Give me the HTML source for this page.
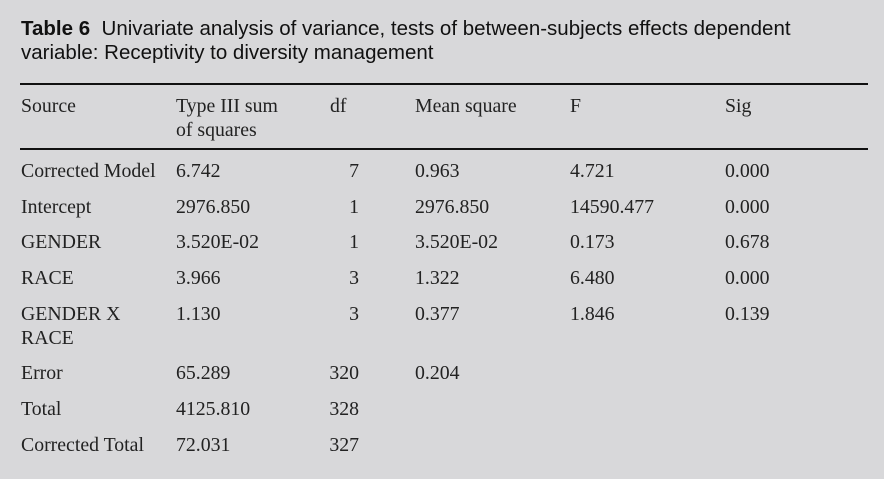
<!DOCTYPE html>
<html><head><style>
body{margin:0;width:884px;height:479px;background:#d8d8da;position:relative;overflow:hidden}
.t{position:absolute;font-family:"Liberation Sans",sans-serif;font-size:20.5px;color:#111;left:21px;line-height:24px;white-space:nowrap}
.s{position:absolute;font-family:"Liberation Serif",serif;font-size:19.8px;color:#222;line-height:24px;white-space:nowrap}
.r{text-align:right;width:60px}
.l{position:absolute;left:20px;width:848px;height:1.5px;background:#111}
</style></head><body>
<div class="t" style="top:17px"><b>Table 6</b>&nbsp; Univariate analysis of variance, tests of between-subjects effects dependent</div>
<div class="t" style="top:41px">variable: Receptivity to diversity management</div>
<div class="l" style="top:83px"></div>
<div class="l" style="top:148px"></div>
<div class="s" style="left:21px;top:94px">Source</div>
<div class="s" style="left:176px;top:94px">Type III sum<br>of squares</div>
<div class="s" style="left:330px;top:94px">df</div>
<div class="s" style="left:415px;top:94px">Mean square</div>
<div class="s" style="left:570px;top:94px">F</div>
<div class="s" style="left:725px;top:94px">Sig</div>

<div class="s" style="left:21px;top:159px">Corrected Model</div><div class="s" style="left:176px;top:159px">6.742</div><div class="s r" style="left:299px;top:159px">7</div><div class="s" style="left:415px;top:159px">0.963</div><div class="s" style="left:570px;top:159px">4.721</div><div class="s" style="left:725px;top:159px">0.000</div>
<div class="s" style="left:21px;top:195px">Intercept</div><div class="s" style="left:176px;top:195px">2976.850</div><div class="s r" style="left:299px;top:195px">1</div><div class="s" style="left:415px;top:195px">2976.850</div><div class="s" style="left:570px;top:195px">14590.477</div><div class="s" style="left:725px;top:195px">0.000</div>
<div class="s" style="left:21px;top:230px">GENDER</div><div class="s" style="left:176px;top:230px">3.520E-02</div><div class="s r" style="left:299px;top:230px">1</div><div class="s" style="left:415px;top:230px">3.520E-02</div><div class="s" style="left:570px;top:230px">0.173</div><div class="s" style="left:725px;top:230px">0.678</div>
<div class="s" style="left:21px;top:266px">RACE</div><div class="s" style="left:176px;top:266px">3.966</div><div class="s r" style="left:299px;top:266px">3</div><div class="s" style="left:415px;top:266px">1.322</div><div class="s" style="left:570px;top:266px">6.480</div><div class="s" style="left:725px;top:266px">0.000</div>
<div class="s" style="left:21px;top:302px">GENDER X<br>RACE</div><div class="s" style="left:176px;top:302px">1.130</div><div class="s r" style="left:299px;top:302px">3</div><div class="s" style="left:415px;top:302px">0.377</div><div class="s" style="left:570px;top:302px">1.846</div><div class="s" style="left:725px;top:302px">0.139</div>
<div class="s" style="left:21px;top:361px">Error</div><div class="s" style="left:176px;top:361px">65.289</div><div class="s r" style="left:299px;top:361px">320</div><div class="s" style="left:415px;top:361px">0.204</div>
<div class="s" style="left:21px;top:397px">Total</div><div class="s" style="left:176px;top:397px">4125.810</div><div class="s r" style="left:299px;top:397px">328</div>
<div class="s" style="left:21px;top:433px">Corrected Total</div><div class="s" style="left:176px;top:433px">72.031</div><div class="s r" style="left:299px;top:433px">327</div>
</body></html>
